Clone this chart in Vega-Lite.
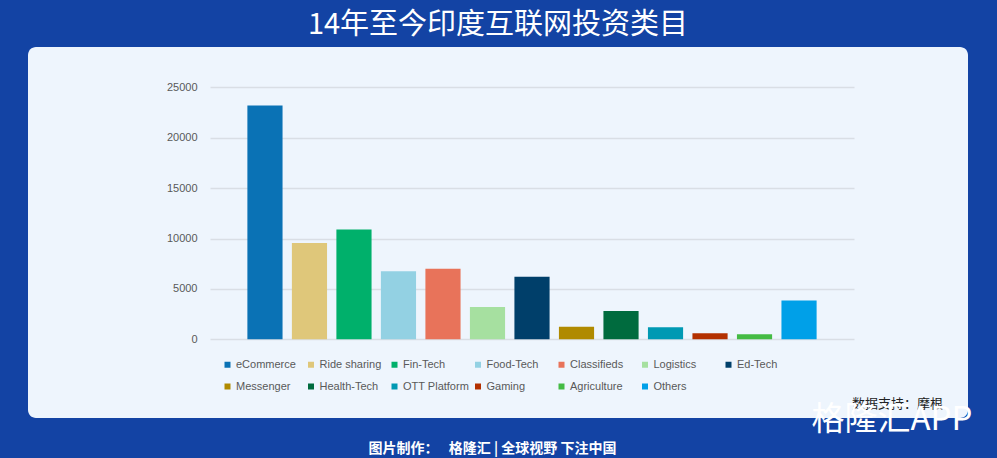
{
  "$schema": "https://vega.github.io/schema/vega-lite/v6.json",
  "width": 940,
  "height": 371,
  "autosize": {"type": "none"},
  "padding": {"left": 28, "top": 47, "right": 29, "bottom": 40},
  "background": "#1343a4",
  "config": {
    "view": {"fill": "#eef5fd", "stroke": null, "cornerRadius": 8},
    "font": "Liberation Sans"
  },
  "title": {
    "text": "14年至今印度互联网投资类目",
    "anchor": "middle",
    "frame": "group",
    "orient": "top",
    "offset": 0,
    "baseline": "middle",
    "dy": 7,
    "font": "Noto Sans CJK SC",
    "fontSize": 29,
    "fontWeight": "normal",
    "color": "#ffffff"
  },
  "data": {
    "values": [
      {"category": "eCommerce", "value": 23200},
      {"category": "Ride sharing", "value": 9550},
      {"category": "Fin-Tech", "value": 10900},
      {"category": "Food-Tech", "value": 6750},
      {"category": "Classifieds", "value": 7000},
      {"category": "Logistics", "value": 3200},
      {"category": "Ed-Tech", "value": 6200},
      {"category": "Messenger", "value": 1250},
      {"category": "Health-Tech", "value": 2800},
      {"category": "OTT Platform", "value": 1200},
      {"category": "Gaming", "value": 600},
      {"category": "Agriculture", "value": 500},
      {"category": "Others", "value": 3850}
    ]
  },
  "mark": {"type": "bar"},
  "encoding": {
    "x": {
      "field": "category",
      "type": "nominal",
      "sort": null,
      "scale": {"range": [182, 826], "paddingInner": 0.21, "paddingOuter": 0.84, "round": false},
      "axis": {
        "labels": false,
        "ticks": false,
        "domain": false,
        "grid": false,
        "zindex": 3,
        "title": "格隆汇APP",
        "titleFont": "Noto Sans CJK SC",
        "titleFontSize": 33,
        "titleFontWeight": "normal",
        "titleColor": "#ffffff",
        "titleAlign": "left",
        "titleBaseline": "middle",
        "titleX": 783,
        "titleY": 1
      }
    },
    "y": {
      "field": "value",
      "type": "quantitative",
      "scale": {"domain": [0, 25000], "range": [292.3, 40.3], "nice": false, "zero": true},
      "axis": {
        "values": [0, 5000, 10000, 15000, 20000, 25000],
        "format": "d",
        "domain": false,
        "ticks": false,
        "labelPadding": 3,
        "offset": -172,
        "labelFont": "Liberation Sans",
        "labelFontSize": 11,
        "labelColor": "#595959",
        "grid": true,
        "gridColor": "#d9dee5",
        "gridWidth": 1.5,
        "title": "图片制作：　 格隆汇   |   全球视野 下注中国",
        "titleAngle": 0,
        "titleX": 292,
        "titleY": 401,
        "titleAlign": "center",
        "titleBaseline": "middle",
        "titleFont": "Noto Sans CJK SC",
        "titleFontSize": 14,
        "titleFontWeight": "bold",
        "titleColor": "#ffffff"
      }
    },
    "color": {
      "field": "category",
      "type": "nominal",
      "scale": {
        "domain": ["eCommerce", "Ride sharing", "Fin-Tech", "Food-Tech", "Classifieds", "Logistics", "Ed-Tech", "Messenger", "Health-Tech", "OTT Platform", "Gaming", "Agriculture", "Others"],
        "range": ["#0a72b5", "#dfc77a", "#00b06b", "#93d1e3", "#e8735a", "#a6e0a0", "#003f6a", "#b08a00", "#006b3e", "#0099b3", "#b33000", "#44bb44", "#00a0e8"]
      },
      "legend": {
        "orient": "none",
        "legendX": 194,
        "legendY": 312,
        "direction": "horizontal",
        "columns": 7,
        "gridAlign": "all",
        "columnPadding": 2.5,
        "rowPadding": 10,
        "zindex": 1,
        "symbolType": "square",
        "symbolSize": 36,
        "symbolStrokeWidth": 0,
        "labelOffset": 3,
        "labelFont": "Liberation Sans",
        "labelFontSize": 11,
        "labelColor": "#595959",
        "padding": 0,
        "title": "数据支持：摩根",
        "titleOrient": "right",
        "titlePadding": 75,
        "titleAnchor": "end",
        "titleBaseline": "line-top",
        "titleLineHeight": 25,
        "titleFont": "Noto Sans CJK SC",
        "titleFontSize": 13,
        "titleFontWeight": "normal",
        "titleColor": "#222222"
      }
    }
  }
}
